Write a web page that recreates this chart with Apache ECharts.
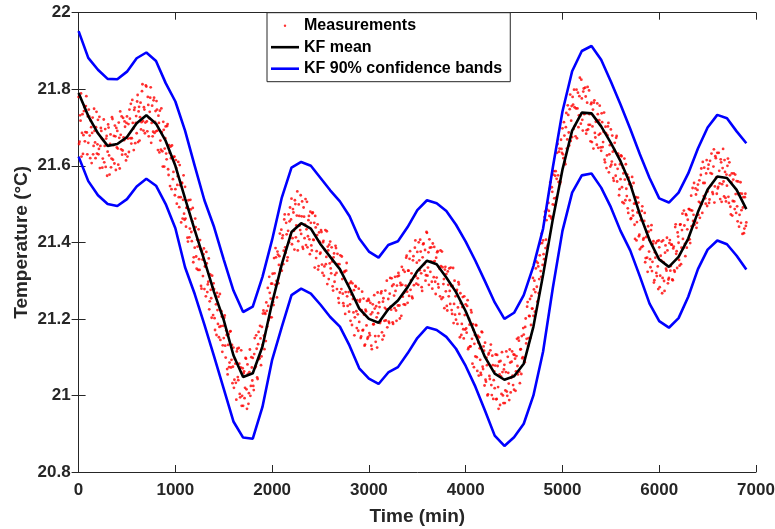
<!DOCTYPE html>
<html><head><meta charset="utf-8">
<script src="https://cdn.jsdelivr.net/npm/echarts@6/dist/echarts.min.js"></script>
<style>html,body{margin:0;padding:0;background:#fff}#c{width:775px;height:529px}</style>
</head><body><div id="c"></div>
<script>
const X_TICKS = [0, 1000, 2000, 3000, 4000, 5000, 6000, 7000];
const Y_TICKS = [20.8, 21, 21.2, 21.4, 21.6, 21.8, 22];

const timeMin = [0,100,200,300,400,500,600,700,800,900,
  1000,1100,1200,1300,1400,1500,1600,1700,1800,1900,
  2000,2100,2200,2300,2400,2500,2600,2700,2800,2900,
  3000,3100,3200,3300,3400,3500,3600,3700,3800,3900,
  4000,4100,4200,4300,4400,4500,4600,4700,4800,4900,
  5000,5100,5200,5300,5400,5500,5600,5700,5800,5900,
  6000,6100,6200,6300,6400,6500,6600,6700,6800,6900];

const kfMean = [21.79,21.73,21.685,21.652,21.657,21.675,21.711,21.732,21.71,21.665,
  21.60,21.515,21.432,21.352,21.27,21.197,21.105,21.048,21.058,21.128,
  21.242,21.343,21.427,21.45,21.436,21.395,21.362,21.33,21.28,21.227,
  21.2,21.19,21.225,21.248,21.283,21.325,21.352,21.343,21.308,21.27,
  21.22,21.16,21.1,21.057,21.041,21.05,21.083,21.18,21.315,21.46,
  21.59,21.692,21.739,21.737,21.703,21.66,21.612,21.553,21.473,21.406,
  21.355,21.336,21.362,21.41,21.479,21.538,21.572,21.568,21.537,21.487];

const kfUpper = [21.952,21.882,21.851,21.827,21.826,21.846,21.881,21.896,21.874,21.816,
  21.768,21.692,21.60,21.51,21.44,21.355,21.274,21.218,21.232,21.31,
  21.407,21.517,21.595,21.61,21.60,21.568,21.536,21.507,21.468,21.41,
  21.376,21.36,21.393,21.403,21.44,21.484,21.51,21.502,21.482,21.446,
  21.402,21.352,21.298,21.243,21.2,21.216,21.262,21.338,21.436,21.595,
  21.742,21.847,21.9,21.913,21.877,21.82,21.76,21.697,21.63,21.568,
  21.515,21.504,21.53,21.58,21.645,21.7,21.733,21.724,21.69,21.659];

const kfLower = [21.624,21.56,21.523,21.5,21.495,21.513,21.546,21.566,21.548,21.5,
  21.437,21.335,21.265,21.185,21.102,21.017,20.932,20.89,20.887,20.97,
  21.093,21.179,21.262,21.279,21.266,21.237,21.205,21.18,21.13,21.071,
  21.044,21.03,21.06,21.074,21.11,21.15,21.178,21.171,21.153,21.122,
  21.077,21.023,20.96,20.895,20.868,20.891,20.926,21.0,21.115,21.28,
  21.43,21.53,21.575,21.58,21.543,21.492,21.43,21.379,21.311,21.24,
  21.194,21.177,21.202,21.258,21.33,21.381,21.405,21.395,21.365,21.329];

// measurements: set A sampled at 0,10,20,... min; set B at 5,15,25,... min
const MEAS_STEP = 10;
const MEAS_OFFSET_B = 5;
const measurementsA = [
21.780,21.663,21.718,21.624,21.735,21.680,21.753,21.688,21.782,21.630,
21.660,21.729,21.620,21.701,21.686,21.630,21.749,21.661,21.701,21.632,
21.720,21.644,21.594,21.699,21.671,21.619,21.721,21.652,21.597,21.678,
21.637,21.700,21.577,21.682,21.619,21.722,21.654,21.606,21.677,21.699,
21.691,21.603,21.673,21.742,21.643,21.629,21.725,21.667,21.702,21.614,
21.729,21.671,21.636,21.723,21.762,21.672,21.712,21.641,21.752,21.712,
21.685,21.785,21.742,21.666,21.765,21.714,21.813,21.692,21.747,21.713,
21.807,21.690,21.759,21.724,21.778,21.660,21.757,21.689,21.778,21.715,
21.690,21.747,21.641,21.712,21.744,21.642,21.688,21.598,21.694,21.645,
21.703,21.617,21.709,21.576,21.634,21.650,21.539,21.621,21.584,21.624,
21.539,21.594,21.550,21.610,21.492,21.549,21.452,21.555,21.511,21.475,
21.545,21.441,21.491,21.402,21.486,21.436,21.486,21.403,21.490,21.361,
21.386,21.440,21.331,21.389,21.434,21.328,21.382,21.279,21.355,21.369,
21.278,21.337,21.375,21.270,21.297,21.225,21.316,21.254,21.313,21.210,
21.278,21.171,21.238,21.268,21.187,21.152,21.265,21.181,21.206,21.131,
21.150,21.209,21.099,21.158,21.055,21.160,21.086,21.168,21.093,21.032,
21.125,21.041,21.083,20.989,21.122,21.040,21.083,20.995,21.118,20.999,
20.973,21.063,21.020,21.096,20.965,21.056,21.006,21.120,21.025,21.073,
21.098,21.014,21.150,21.076,21.122,21.043,21.166,21.097,21.149,21.102,
21.132,21.222,21.121,21.213,21.243,21.180,21.234,21.310,21.204,21.292,
21.292,21.244,21.359,21.289,21.361,21.256,21.368,21.341,21.423,21.333,
21.326,21.418,21.378,21.473,21.373,21.421,21.361,21.473,21.455,21.418,
21.514,21.411,21.478,21.381,21.500,21.444,21.533,21.403,21.469,21.432,
21.422,21.507,21.383,21.467,21.446,21.393,21.506,21.416,21.469,21.369,
21.451,21.379,21.478,21.406,21.334,21.439,21.377,21.447,21.338,21.402,
21.373,21.427,21.320,21.404,21.337,21.432,21.362,21.291,21.379,21.394,
21.402,21.319,21.350,21.274,21.371,21.315,21.385,21.278,21.343,21.242,
21.269,21.323,21.363,21.266,21.234,21.325,21.270,21.346,21.234,21.270,
21.293,21.195,21.264,21.293,21.217,21.157,21.286,21.220,21.249,21.169,
21.192,21.250,21.154,21.271,21.171,21.211,21.133,21.220,21.247,21.152,
21.248,21.157,21.212,21.121,21.238,21.186,21.227,21.140,21.204,21.269,
21.155,21.231,21.194,21.272,21.146,21.254,21.195,21.274,21.225,21.178,
21.252,21.189,21.307,21.224,21.286,21.187,21.261,21.310,21.222,21.287,
21.235,21.313,21.201,21.288,21.336,21.258,21.238,21.323,21.287,21.365,
21.242,21.326,21.357,21.276,21.319,21.254,21.364,21.311,21.405,21.292,
21.375,21.289,21.353,21.407,21.319,21.273,21.395,21.343,21.380,21.314,
21.425,21.334,21.289,21.386,21.350,21.297,21.397,21.309,21.351,21.265,
21.308,21.377,21.282,21.331,21.379,21.252,21.335,21.291,21.228,21.336,
21.317,21.222,21.289,21.332,21.239,21.286,21.213,21.333,21.239,21.211,
21.198,21.276,21.230,21.290,21.152,21.241,21.187,21.257,21.149,21.210,
21.238,21.164,21.249,21.125,21.185,21.128,21.217,21.083,21.171,21.135,
21.102,21.183,21.064,21.138,21.152,21.093,21.054,21.165,21.069,21.117,
21.138,21.036,21.079,21.003,21.111,21.043,21.133,21.001,21.079,21.040,
21.019,21.107,20.991,21.077,20.965,21.055,21.090,21.004,21.061,20.980,
21.080,21.013,21.115,20.999,21.059,20.988,21.086,21.046,21.115,21.027,
21.015,21.096,21.063,21.148,21.055,21.143,21.032,21.121,21.155,21.100,
21.159,21.087,21.201,21.148,21.244,21.150,21.207,21.151,21.260,21.227,
21.208,21.300,21.270,21.350,21.245,21.337,21.304,21.397,21.310,21.398,
21.405,21.356,21.480,21.407,21.486,21.394,21.482,21.540,21.467,21.544,
21.499,21.586,21.497,21.586,21.566,21.657,21.558,21.645,21.558,21.644,
21.698,21.620,21.679,21.604,21.738,21.669,21.733,21.653,21.786,21.718,
21.675,21.760,21.799,21.705,21.750,21.672,21.791,21.732,21.830,21.710,
21.776,21.692,21.802,21.737,21.781,21.693,21.806,21.707,21.735,21.664,
21.765,21.703,21.645,21.771,21.674,21.720,21.763,21.647,21.719,21.684,
21.639,21.714,21.662,21.739,21.609,21.685,21.627,21.703,21.583,21.654,
21.695,21.611,21.637,21.561,21.660,21.574,21.678,21.592,21.626,21.539,
21.565,21.625,21.505,21.580,21.619,21.510,21.540,21.577,21.477,21.552,
21.552,21.463,21.571,21.470,21.501,21.409,21.518,21.453,21.517,21.416,
21.382,21.458,21.482,21.390,21.411,21.477,21.359,21.428,21.323,21.428,
21.406,21.335,21.445,21.349,21.403,21.301,21.360,21.320,21.403,21.278,
21.387,21.313,21.353,21.267,21.405,21.299,21.373,21.331,21.412,21.293,
21.307,21.406,21.338,21.394,21.301,21.389,21.323,21.447,21.377,21.426,
21.399,21.339,21.447,21.386,21.475,21.385,21.444,21.364,21.471,21.434,
21.406,21.487,21.398,21.522,21.483,21.456,21.555,21.456,21.525,21.451,
21.551,21.506,21.464,21.576,21.500,21.610,21.521,21.555,21.501,21.615,
21.533,21.603,21.512,21.581,21.632,21.531,21.598,21.504,21.625,21.570,
21.634,21.545,21.587,21.513,21.609,21.552,21.644,21.520,21.584,21.507,
21.548,21.619,21.503,21.575,21.473,21.580,21.508,21.580,21.487,21.526,
21.560,21.455,21.525,21.472,21.557,21.484,21.422,21.518,21.436,21.527,
21.452];

const measurementsB = [
21.657,21.732,21.789,21.686,21.631,21.743,21.664,21.756,21.687,21.729,
21.747,21.679,21.718,21.607,21.726,21.652,21.691,21.620,21.741,21.656,
21.630,21.728,21.652,21.691,21.595,21.667,21.609,21.696,21.671,21.574,
21.708,21.627,21.657,21.596,21.727,21.616,21.678,21.705,21.589,21.648,
21.645,21.713,21.593,21.681,21.729,21.640,21.674,21.716,21.630,21.712,
21.624,21.709,21.747,21.672,21.658,21.772,21.697,21.746,21.659,21.730,
21.768,21.662,21.754,21.727,21.695,21.795,21.717,21.753,21.685,21.810,
21.716,21.780,21.677,21.741,21.805,21.712,21.677,21.771,21.686,21.743,
21.769,21.692,21.731,21.635,21.666,21.750,21.638,21.715,21.598,21.672,
21.632,21.704,21.591,21.654,21.547,21.620,21.653,21.565,21.623,21.523,
21.615,21.501,21.573,21.518,21.602,21.518,21.555,21.462,21.575,21.459,
21.462,21.490,21.412,21.510,21.413,21.511,21.427,21.455,21.348,21.432,
21.462,21.363,21.407,21.328,21.356,21.406,21.286,21.378,21.312,21.384,
21.337,21.259,21.345,21.290,21.358,21.246,21.276,21.203,21.283,21.293,
21.202,21.261,21.158,21.223,21.258,21.179,21.145,21.220,21.114,21.182,
21.203,21.130,21.170,21.069,21.132,21.074,21.167,21.073,21.132,21.075,
21.020,21.095,21.033,21.115,21.048,21.124,21.004,21.073,20.973,21.071,
21.058,20.993,21.098,21.016,21.081,20.978,21.061,20.999,21.100,21.039,
21.025,21.108,21.073,21.157,21.047,21.134,21.095,21.182,21.079,21.179,
21.214,21.156,21.216,21.142,21.221,21.281,21.197,21.268,21.253,21.204,
21.318,21.236,21.319,21.385,21.299,21.376,21.293,21.364,21.330,21.433,
21.411,21.343,21.460,21.387,21.451,21.352,21.430,21.400,21.491,21.460,
21.395,21.487,21.430,21.510,21.413,21.470,21.379,21.499,21.444,21.523,
21.468,21.388,21.491,21.411,21.513,21.434,21.387,21.458,21.408,21.480,
21.392,21.476,21.407,21.451,21.469,21.359,21.419,21.329,21.426,21.370,
21.432,21.342,21.400,21.313,21.380,21.343,21.429,21.389,21.304,21.345,
21.332,21.387,21.285,21.361,21.297,21.391,21.320,21.370,21.254,21.343,
21.366,21.278,21.304,21.241,21.322,21.213,21.326,21.259,21.289,21.219,
21.238,21.297,21.184,21.252,21.275,21.204,21.284,21.176,21.212,21.279,
21.245,21.150,21.223,21.170,21.253,21.130,21.224,21.183,21.148,21.252,
21.163,21.242,21.130,21.217,21.186,21.262,21.155,21.233,21.125,21.215,
21.243,21.189,21.267,21.165,21.245,21.156,21.229,21.196,21.300,21.224,
21.193,21.266,21.232,21.306,21.191,21.290,21.228,21.273,21.195,21.311,
21.320,21.235,21.294,21.208,21.289,21.328,21.269,21.237,21.360,21.271,
21.326,21.260,21.377,21.301,21.258,21.353,21.288,21.386,21.312,21.347,
21.306,21.400,21.327,21.376,21.283,21.361,21.397,21.326,21.300,21.427,
21.313,21.374,21.408,21.323,21.387,21.279,21.349,21.388,21.297,21.360,
21.374,21.291,21.335,21.259,21.338,21.376,21.256,21.304,21.329,21.272,
21.234,21.324,21.259,21.273,21.334,21.223,21.286,21.189,21.300,21.259,
21.273,21.187,21.296,21.213,21.267,21.158,21.231,21.173,21.259,21.172,
21.175,21.234,21.121,21.200,21.128,21.223,21.148,21.186,21.074,21.158,
21.184,21.100,21.156,21.052,21.123,21.059,21.167,21.075,21.128,21.026,
21.041,21.099,21.000,21.107,21.051,21.118,21.027,21.104,20.991,21.063,
21.078,20.990,21.106,21.022,21.088,20.975,21.050,21.113,21.000,21.068,
20.980,21.061,21.010,21.101,21.031,21.120,21.008,21.088,21.052,21.107,
21.106,21.012,21.103,21.077,21.151,21.062,21.120,21.056,21.097,21.176,
21.090,21.179,21.136,21.232,21.129,21.208,21.252,21.184,21.227,21.307,
21.277,21.219,21.332,21.284,21.346,21.267,21.366,21.325,21.423,21.341,
21.369,21.466,21.385,21.458,21.390,21.503,21.469,21.557,21.462,21.532,
21.577,21.515,21.574,21.517,21.634,21.575,21.637,21.553,21.668,21.634,
21.630,21.714,21.610,21.701,21.645,21.758,21.687,21.748,21.665,21.756,
21.780,21.696,21.753,21.677,21.799,21.750,21.701,21.782,21.731,21.825,
21.720,21.794,21.735,21.804,21.684,21.765,21.695,21.797,21.707,21.761,
21.662,21.747,21.765,21.686,21.715,21.655,21.735,21.681,21.757,21.648,
21.737,21.649,21.689,21.616,21.702,21.594,21.680,21.712,21.630,21.598,
21.603,21.679,21.568,21.642,21.603,21.673,21.559,21.632,21.523,21.604,
21.627,21.544,21.595,21.502,21.564,21.604,21.521,21.489,21.569,21.510,
21.461,21.546,21.483,21.555,21.446,21.502,21.405,21.478,21.504,21.420,
21.471,21.387,21.494,21.407,21.456,21.348,21.414,21.360,21.442,21.376,
21.356,21.432,21.325,21.396,21.295,21.374,21.398,21.312,21.337,21.405,
21.283,21.365,21.402,21.307,21.348,21.273,21.392,21.326,21.379,21.303,
21.398,21.326,21.394,21.303,21.384,21.327,21.440,21.370,21.333,21.415,
21.354,21.446,21.343,21.432,21.409,21.483,21.396,21.474,21.386,21.459,
21.487,21.408,21.484,21.442,21.542,21.472,21.446,21.541,21.438,21.537,
21.472,21.562,21.503,21.593,21.477,21.555,21.595,21.515,21.580,21.495,
21.592,21.503,21.613,21.549,21.579,21.526,21.643,21.546,21.620,21.527,
21.541,21.634,21.554,21.617,21.506,21.594,21.559,21.615,21.516,21.577,
21.600,21.519,21.609,21.493,21.557,21.470,21.564,21.507,21.577,21.477,
21.494,21.559,21.441,21.528,21.451,21.527,21.491,21.424,21.518,21.443];

const FONT = '"Liberation Sans", Arial, Helvetica, sans-serif';
const AX = '#262626';

const meanData = timeMin.map((t, i) => [t, kfMean[i]]);
const upperData = timeMin.map((t, i) => [t, kfUpper[i]]);
const lowerData = timeMin.map((t, i) => [t, kfLower[i]]);
const measData = measurementsA.map((v, i) => [i * MEAS_STEP, v])
  .concat(measurementsB.map((v, i) => [i * MEAS_STEP + MEAS_OFFSET_B, v]));

const xMin = X_TICKS[0], xMax = X_TICKS[X_TICKS.length - 1], xInt = X_TICKS[1] - X_TICKS[0];
const yMin = Y_TICKS[0], yMax = Y_TICKS[Y_TICKS.length - 1], yInt = 0.2;

const labelStyle = { fontFamily: FONT, fontWeight: 'bold', fontSize: 17, color: AX };
const axLine = { show: true, lineStyle: { color: AX, width: 1 } };
const tick = { show: true, inside: true, length: 7, lineStyle: { color: AX, width: 1 } };

const ICON_DOT = 'path://M0,0M28,14M12.8,7a1.2,1.2 0 1,0 2.4,0a1.2,1.2 0 1,0 -2.4,0';
const ICON_LINE = 'path://M0,0M28,14M0,5.7H28V8.3H0Z';

const chart = echarts.init(document.getElementById('c'), null, { renderer: 'canvas' });
chart.setOption({
  animation: false,
  backgroundColor: '#fff',
  grid: { left: 78.6, right: 19, top: 12.7, bottom: 57, outerBoundsMode: 'none' },
  legend: {
    left: 267, top: 12.7, orient: 'vertical',
    itemWidth: 28, itemHeight: 14, itemGap: 3.5,
    padding: [4, 8, 4, 4],
    borderColor: AX, borderWidth: 1, backgroundColor: '#fff',
    selectedMode: false,
    textStyle: { fontFamily: FONT, fontWeight: 'bold', fontSize: 16, color: '#000', lineHeight: 18 },
    data: [
      { name: 'Measurements', icon: ICON_DOT, itemStyle: { color: '#ff0000' } },
      { name: 'KF mean', icon: ICON_LINE, itemStyle: { color: '#000000' } },
      { name: 'KF 90% confidence bands', icon: ICON_LINE, itemStyle: { color: '#0000ff' } }
    ]
  },
  xAxis: [{
    type: 'value', min: xMin, max: xMax, interval: xInt, position: 'bottom',
    axisLine: axLine, axisTick: tick, splitLine: { show: false },
    axisLabel: Object.assign({ margin: 10, formatter: v => String(v) }, labelStyle),
    name: 'Time (min)', nameLocation: 'middle', nameGap: 35, nameMoveOverlap: false,
    nameTextStyle: { fontFamily: FONT, fontWeight: 'bold', fontSize: 19, color: AX }
  }, {
    type: 'value', min: xMin, max: xMax, interval: xInt, position: 'top',
    axisLine: axLine, axisTick: tick, splitLine: { show: false }, axisLabel: { show: false }
  }],
  yAxis: [{
    type: 'value', min: yMin, max: yMax, interval: yInt, position: 'left',
    axisLine: axLine, axisTick: tick, splitLine: { show: false },
    axisLabel: Object.assign({ margin: 8, formatter: v => String(parseFloat(v.toFixed(1))) }, labelStyle),
    name: 'Temperature (°C)', nameLocation: 'middle', nameGap: 47, nameMoveOverlap: false,
    nameTextStyle: { fontFamily: FONT, fontWeight: 'bold', fontSize: 19, color: AX }
  }, {
    type: 'value', min: yMin, max: yMax, interval: yInt, position: 'right',
    axisLine: axLine, axisTick: tick, splitLine: { show: false }, axisLabel: { show: false }
  }],
  series: [{
    name: 'Measurements', type: 'scatter', data: measData,
    symbol: 'circle', symbolSize: 2.8, itemStyle: { color: '#ff0000' },
    large: false, silent: true
  }, {
    name: 'KF mean', type: 'line', data: meanData, showSymbol: false, symbol: 'none',
    lineStyle: { color: '#000000', width: 2.6 }, itemStyle: { color: '#000000' }, silent: true
  }, {
    name: 'KF 90% confidence bands', type: 'line', data: upperData, showSymbol: false, symbol: 'none',
    lineStyle: { color: '#0000ff', width: 2.6 }, itemStyle: { color: '#0000ff' }, silent: true
  }, {
    name: 'KF 90% confidence bands', type: 'line', data: lowerData, showSymbol: false, symbol: 'none',
    lineStyle: { color: '#0000ff', width: 2.6 }, itemStyle: { color: '#0000ff' }, silent: true
  }]
});
</script>
</body></html>
